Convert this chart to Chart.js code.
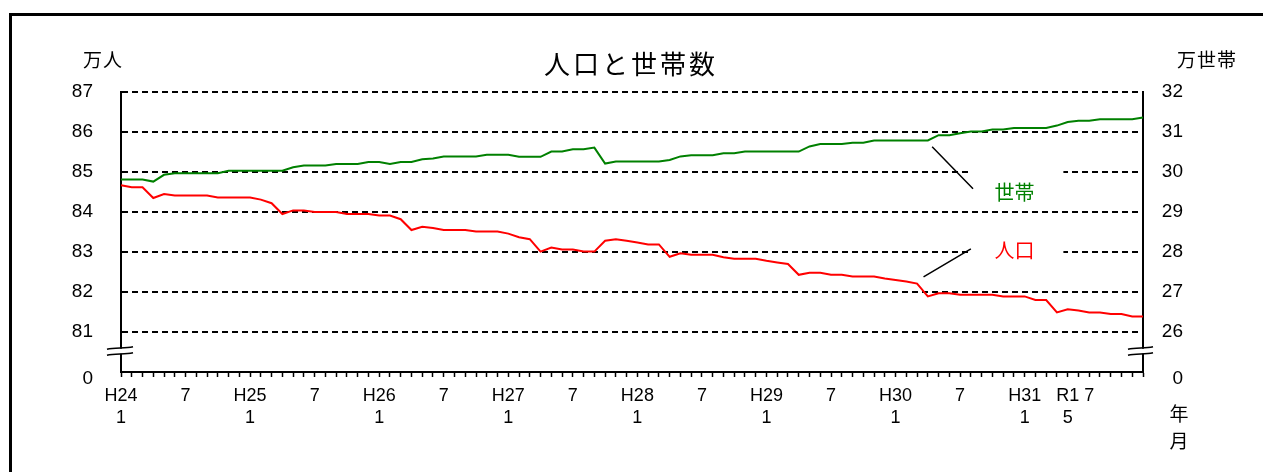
<!DOCTYPE html>
<html lang="ja">
<head>
<meta charset="utf-8">
<title>人口と世帯数</title>
<script src="https://cdn.jsdelivr.net/npm/chart.js@4.4.1/dist/chart.umd.min.js"></script>
<style>
  html, body { margin: 0; padding: 0; background: #fff; }
  #wrap { width: 1263px; height: 472px; position: relative; }
  canvas { display: block; }
</style>
</head>
<body>
<div id="wrap"><canvas id="c" width="1263" height="472"></canvas></div>
<script>
// Months from H24.1 (Jan 2012) to R1.12 (Dec 2019)
const categories = [
  'H24.1','H24.2','H24.3','H24.4','H24.5','H24.6','H24.7','H24.8','H24.9','H24.10','H24.11','H24.12',
  'H25.1','H25.2','H25.3','H25.4','H25.5','H25.6','H25.7','H25.8','H25.9','H25.10','H25.11','H25.12',
  'H26.1','H26.2','H26.3','H26.4','H26.5','H26.6','H26.7','H26.8','H26.9','H26.10','H26.11','H26.12',
  'H27.1','H27.2','H27.3','H27.4','H27.5','H27.6','H27.7','H27.8','H27.9','H27.10','H27.11','H27.12',
  'H28.1','H28.2','H28.3','H28.4','H28.5','H28.6','H28.7','H28.8','H28.9','H28.10','H28.11','H28.12',
  'H29.1','H29.2','H29.3','H29.4','H29.5','H29.6','H29.7','H29.8','H29.9','H29.10','H29.11','H29.12',
  'H30.1','H30.2','H30.3','H30.4','H30.5','H30.6','H30.7','H30.8','H30.9','H30.10','H30.11','H30.12',
  'H31.1','H31.2','H31.3','H31.4','R1.5','R1.6','R1.7','R1.8','R1.9','R1.10','R1.11','R1.12'
];

// 人口 (万人)
const population = [
  84.67,84.62,84.62,84.35,84.45,84.41,84.41,84.41,84.41,84.36,84.36,84.36,
  84.36,84.31,84.22,83.95,84.04,84.04,84.00,84.00,84.00,83.95,83.95,83.95,
  83.91,83.91,83.82,83.55,83.63,83.60,83.55,83.55,83.55,83.51,83.51,83.51,
  83.46,83.37,83.32,83.01,83.11,83.06,83.06,83.01,83.01,83.28,83.32,83.28,
  83.24,83.19,83.19,82.88,82.97,82.93,82.93,82.93,82.87,82.83,82.83,82.83,
  82.78,82.74,82.70,82.43,82.48,82.48,82.43,82.43,82.39,82.39,82.39,82.34,
  82.30,82.26,82.21,81.89,81.97,81.97,81.93,81.93,81.93,81.93,81.89,81.89,
  81.89,81.80,81.80,81.49,81.57,81.54,81.49,81.49,81.45,81.45,81.39,81.39
];

// 世帯数 (万世帯)
const households = [
  29.81,29.81,29.81,29.76,29.93,29.97,29.97,29.97,29.97,29.97,30.03,30.03,
  30.03,30.03,30.03,30.03,30.12,30.16,30.16,30.16,30.20,30.20,30.20,30.25,
  30.25,30.20,30.25,30.25,30.32,30.34,30.39,30.39,30.39,30.39,30.43,30.43,
  30.43,30.38,30.38,30.38,30.51,30.51,30.57,30.57,30.61,30.21,30.26,30.26,
  30.26,30.26,30.26,30.30,30.39,30.42,30.42,30.42,30.47,30.47,30.51,30.51,
  30.51,30.51,30.51,30.51,30.64,30.70,30.70,30.70,30.73,30.73,30.79,30.79,
  30.79,30.79,30.79,30.79,30.92,30.92,30.97,31.01,31.01,31.06,31.06,31.10,
  31.10,31.10,31.10,31.16,31.25,31.28,31.28,31.32,31.32,31.32,31.32,31.36
];

// Labels shown under the month ticks
const axisLabels = {
  'H24.1': ['H24', '1'], 'H24.7': '7',
  'H25.1': ['H25', '1'], 'H25.7': '7',
  'H26.1': ['H26', '1'], 'H26.7': '7',
  'H27.1': ['H27', '1'], 'H27.7': '7',
  'H28.1': ['H28', '1'], 'H28.7': '7',
  'H29.1': ['H29', '1'], 'H29.7': '7',
  'H30.1': ['H30', '1'], 'H30.7': '7',
  'H31.1': ['H31', '1'],
  'R1.5': ['R1', '5'], 'R1.7': '7'
};

// Axis ranges: the lowest step of each axis stands for 0 (broken axis)
const popRange = [80, 87];
const hhRange = [25, 32];

const LATIN = "'Liberation Sans', Arial, sans-serif";
const CJK = "'Noto Sans CJK JP', 'Noto Sans', sans-serif";

const decorations = {
  id: 'decorations',
  afterDraw(chart) {
    const ctx = chart.ctx;
    const xs = chart.scales.x, ys = chart.scales.y, ys2 = chart.scales.y2;
    const area = chart.chartArea;
    ctx.save();

    // axis break marks on both vertical axes
    const yb = ys.getPixelForValue(popRange[0] + 0.52);
    [[area.left, -14, 12], [area.right, -15, 10]].forEach(([ax, l, r]) => {
      ctx.fillStyle = '#fff';
      ctx.fillRect(ax - 4, yb - 2.5, 8, 5);
      ctx.strokeStyle = '#000';
      ctx.lineWidth = 1.5;
      [-3, 3].forEach(dy => {
        ctx.beginPath();
        ctx.moveTo(ax + l, yb + dy + 1);
        ctx.bezierCurveTo(ax + l + 8, yb + dy - 1, ax + r - 8, yb + dy + 0.5, ax + r, yb + dy - 1.5);
        ctx.stroke();
      });
    });

    // series labels on white boxes
    const bx1 = xs.getPixelForValue(78.75), bx2 = xs.getPixelForValue(87.6);
    const hy = ys2.getPixelForValue(29.5), py = ys.getPixelForValue(83.05);
    ctx.fillStyle = '#fff';
    ctx.fillRect(bx1, hy - 24, bx2 - bx1, 40);
    ctx.fillRect(bx1, py - 18, bx2 - bx1, 36);
    const lx = xs.getPixelForValue(83.05);
    ctx.font = '20px ' + CJK;
    ctx.textAlign = 'center';
    ctx.textBaseline = 'middle';
    ctx.fillStyle = '#008000';
    ctx.fillText('世帯', lx, hy);
    ctx.fillStyle = '#ff0000';
    ctx.fillText('人口', lx, py);

    // leader lines
    ctx.strokeStyle = '#000';
    ctx.lineWidth = 1.5;
    ctx.beginPath();
    ctx.moveTo(xs.getPixelForValue(75.4), ys2.getPixelForValue(30.63));
    ctx.lineTo(xs.getPixelForValue(79.2), ys2.getPixelForValue(29.58));
    ctx.moveTo(xs.getPixelForValue(74.6), ys.getPixelForValue(82.38));
    ctx.lineTo(xs.getPixelForValue(79.0), ys.getPixelForValue(83.08));
    ctx.stroke();

    // title and unit captions
    ctx.fillStyle = '#000';
    ctx.textBaseline = 'middle';
    ctx.textAlign = 'center';
    ctx.font = '26px ' + CJK;
    ctx.letterSpacing = '3px';
    ctx.fillText('人口と世帯数', 631, 64);
    ctx.font = '19px ' + CJK;
    ctx.letterSpacing = '1px';
    ctx.fillText('万人', 103, 60);
    ctx.fillText('万世帯', 1207, 60);
    ctx.letterSpacing = '0px';
    ctx.font = '19px ' + CJK;
    ctx.fillText('年', 1179, 414);
    ctx.fillText('月', 1179, 441);

    // outer frame
    ctx.strokeStyle = '#000';
    ctx.lineWidth = 3;
    ctx.beginPath();
    ctx.moveTo(10.5, 472);
    ctx.lineTo(10.5, 14.5);
    ctx.lineTo(1263, 14.5);
    ctx.stroke();
    ctx.restore();
  }
};

new Chart(document.getElementById('c'), {
  type: 'line',
  data: {
    labels: categories,
    datasets: [
      { label: '人口', data: population, yAxisID: 'y', borderColor: '#ff0000', borderWidth: 2,
        pointRadius: 0, tension: 0, fill: false },
      { label: '世帯', data: households, yAxisID: 'y2', borderColor: '#008000', borderWidth: 2,
        pointRadius: 0, tension: 0, fill: false }
    ]
  },
  options: {
    responsive: false,
    animation: false,
    events: [],
    layout: { padding: { top: 92, right: 80, bottom: 0, left: 0 } },
    plugins: { legend: { display: false }, title: { display: false }, tooltip: { enabled: false } },
    scales: {
      x: {
        offset: false,
        grid: { display: true, drawOnChartArea: false, drawTicks: true, tickLength: 5,
                tickColor: '#000', tickWidth: 1.5, color: '#000' },
        border: { display: true, color: '#000', width: 2 },
        ticks: {
          autoSkip: false, maxRotation: 0, minRotation: 0, padding: 8, color: '#000',
          font: { family: LATIN, size: 18, lineHeight: '22px' },
          callback: (v, i) => axisLabels[categories[i]] || ''
        },
        afterFit(s) { s.height = 100; }
      },
      y: {
        position: 'left',
        min: popRange[0], max: popRange[1],
        ticks: {
          stepSize: 1, padding: 28, color: '#000',
          font: { family: LATIN, size: 19, lineHeight: '14px' },
          callback: v => v === popRange[0] ? ['', '0'] : String(v)
        },
        grid: {
          drawTicks: false, lineWidth: 2,
          color: c => (c.tick && c.tick.value === popRange[0]) ? 'rgba(0,0,0,0)' : '#000'
        },
        border: { display: true, color: '#000', width: 2, dash: [6, 4] },
        afterFit(s) { s.width = 121; }
      },
      y2: {
        position: 'right',
        min: hhRange[0], max: hhRange[1],
        ticks: {
          stepSize: 1, padding: 0, crossAlign: 'far', color: '#000',
          font: { family: LATIN, size: 19, lineHeight: '14px' },
          callback: v => v === hhRange[0] ? ['', '0'] : String(v)
        },
        grid: { display: false },
        border: { display: true, color: '#000', width: 2 },
        afterFit(s) { s.width = 40; }
      }
    }
  },
  plugins: [decorations]
});
</script>
</body>
</html>
